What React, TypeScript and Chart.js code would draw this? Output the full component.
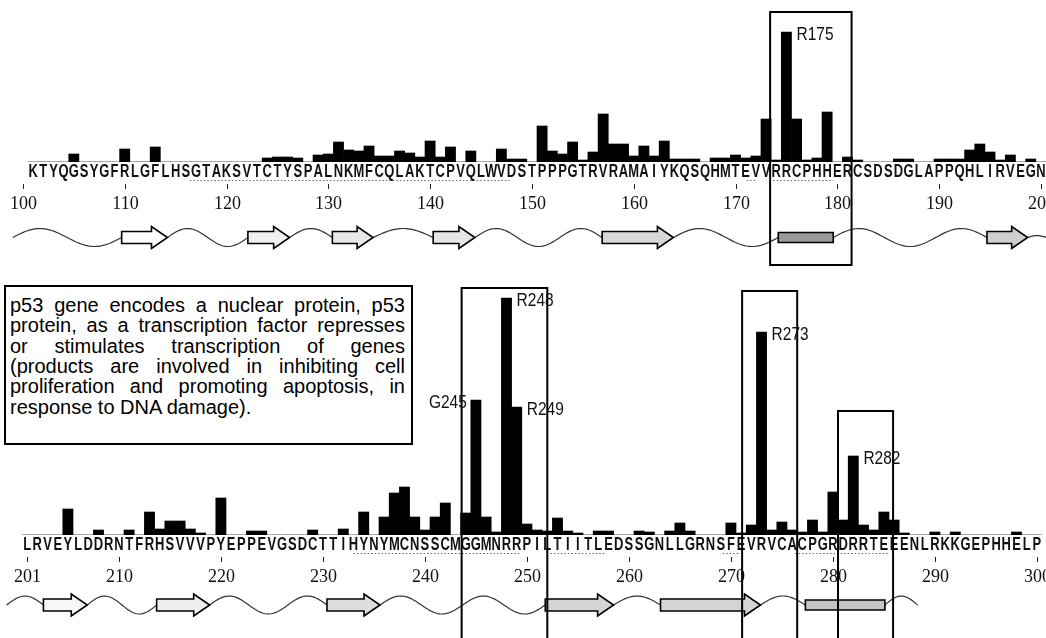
import React, { useEffect, useRef } from 'react';
import { Chart, registerables } from 'chart.js';

Chart.register(...registerables);

// ---------------- data ----------------
const SEQ_TOP = 'KTYQGSYGFRLGFLHSGTAKSVTCTYSPALNKMFCQLAKTCPVQLWVDSTPPPGTRVRAMAIYKQSQHMTEVVRRCPHHERCSDSDGLAPPQHLIRVEGN';
const SEQ_BOTTOM = 'LRVEYLDDRNTFRHSVVVPYEPPEVGSDCTTIHYNYMCNSSCMGGMNRRPILTIITLEDSSGNLLGRNSFEVRVCACPGRDRRTEEENLRKKGEPHHELP';
const START_TOP = 101;
const START_BOTTOM = 201;

const FREQ_TOP = [
  0, 0, 0, 0, 8, 0, 0, 0, 0, 13,
  0, 0, 15, 0, 0, 0, 0, 0, 0, 0,
  0, 0, 0, 4, 5, 5, 4, 0, 7, 8,
  20, 12, 11, 16, 6, 6, 11, 9, 5, 21,
  5, 15, 0, 11, 0, 0, 13, 3, 3, 0,
  36, 11, 8, 20, 2, 10, 48, 18, 18, 6,
  16, 6, 21, 3, 3, 3, 0, 4, 4, 7,
  4, 6, 43, 2, 130, 43, 2, 4, 50, 0,
  5, 2, 0, 0, 0, 3, 3, 0, 0, 3,
  3, 3, 12, 18, 10, 2, 7, 0, 3, 0,
];

const FREQ_BOTTOM = [
  0, 0, 0, 0, 26, 0, 0, 5, 0, 0,
  5, 0, 23, 6, 14, 14, 6, 2, 0, 37,
  0, 0, 4, 4, 0, 0, 0, 0, 5, 0,
  0, 6, 0, 23, 0, 18, 42, 48, 18, 5,
  18, 32, 0, 22, 135, 18, 3, 237, 128, 11,
  5, 4, 17, 4, 2, 0, 4, 4, 0, 0,
  4, 3, 0, 4, 12, 4, 0, 0, 0, 12,
  2, 10, 203, 5, 13, 5, 3, 15, 3, 43,
  15, 79, 10, 5, 23, 15, 2, 0, 0, 3,
  0, 3, 0, 0, 0, 0, 0, 3, 0, 0,
];

const TICKS_TOP = [100, 110, 120, 130, 140, 150, 160, 170, 180, 190, 200];
const TICKS_BOTTOM = [201, 210, 220, 230, 240, 250, 260, 270, 280, 290, 300];

const PEAKS_TOP = ['R175'];
const PEAKS_BOTTOM = ['G245', 'R248', 'R249', 'R273', 'R282'];
const PEAKS_LABEL_LEFT = ['G245'];

// secondary structure (residue ranges)
const STRANDS_TOP = [[109.7, 114.2], [122.1, 126.2], [130.4, 134.4], [140.3, 144.4], [156.9, 163.9], [194.7, 198.7]];
const HELICES_TOP = [[174.2, 179.6]];
const STRANDS_BOTTOM = [[202.6, 206.9], [213.7, 218.9], [230.4, 235.6], [251.8, 258.5], [263.1, 272.9]];
const HELICES_BOTTOM = [[277.3, 285.1]];
const COIL_TOP = [99, 200.5];
const COIL_BOTTOM = [199, 288.3];

// dotted underlines under the sequence (residue ranges)
const UNDERLINE_TOP = [[116.4, 147.8], [171.1, 172.1], [173.7, 179.6]];
const UNDERLINE_BOTTOM = [[233, 249.3], [252.3, 257.7], [269.2, 270.9], [276.3, 285.6]];

// hotspot boxes: [from residue, to residue, top value, bottom value (optional)]
const BOXES_TOP = [[173.4, 181.4, 150, -103]];
const BOXES_BOTTOM = [[243.6, 252.0, 247], [271.1, 276.5, 244], [280.5, 285.9, 124]];

const INFO_LINES = [
  'p53 gene encodes a nuclear protein, p53',
  'protein, as a transcription factor represses',
  'or stimulates transcription of genes',
  '(products are involved in inhibiting cell',
  'proliferation and promoting apoptosis, in',
  'response to DNA damage).',
];

// ---------------- styles ----------------
const STRAND_FILLS_TOP = ['#ffffff', '#f0f0f0', '#e8e8e8', '#e6e6e6', '#d8d8d8', '#cfcfcf'];
const STRAND_FILLS_BOTTOM = ['#f7f7f7', '#eeeeee', '#dddddd', '#d4d4d4', '#d4d4d4'];

type Panel = {
  seq: string;
  start: number;
  freq: number[];
  ticks: number[];
  peaks: string[];
  strands: number[][];
  helices: number[][];
  coil: number[];
  underlines: number[][];
  boxes: number[][];
  strandFills: string[];
  helixFill: string;
  ssOffset: number;
};

const SANS = '"Liberation Sans", Arial, sans-serif';
const SERIF = '"Liberation Serif", "Times New Roman", serif';

function makeDecor(p: Panel) {
  return {
    id: 'panelDecor',
    afterDatasetsDraw(chart: any) {
      const { ctx, chartArea, scales } = chart;
      const xs = scales.x;
      const ys = scales.y;
      const px = (res: number) => xs.getPixelForValue(res - p.start);
      const base = chartArea.bottom;
      const cw = (chartArea.right - chartArea.left) / p.seq.length;
      ctx.save();

      // sequence letters
      ctx.fillStyle = '#111';
      ctx.font = `bold 18px ${SANS}`;
      ctx.textAlign = 'center';
      ctx.textBaseline = 'alphabetic';
      for (let i = 0; i < p.seq.length; i++) {
        const x = xs.getPixelForValue(i);
        ctx.save();
        ctx.translate(x, base + 14.5);
        ctx.scale(0.72, 1);
        ctx.fillText(p.seq[i], 0, 0);
        ctx.restore();
      }

      // dotted underlines
      ctx.strokeStyle = '#666';
      ctx.lineWidth = 1;
      ctx.setLineDash([1.5, 2]);
      for (const [a, b] of p.underlines) {
        ctx.beginPath();
        ctx.moveTo(px(a), base + 18.5);
        ctx.lineTo(px(b), base + 18.5);
        ctx.stroke();
      }
      ctx.setLineDash([]);

      // ticks and numbers
      ctx.strokeStyle = '#222';
      ctx.font = `18px ${SERIF}`;
      ctx.fillStyle = '#111';
      for (const n of p.ticks) {
        const x = Math.round(px(n)) + 0.5;
        ctx.beginPath();
        ctx.moveTo(x, base + 22);
        ctx.lineTo(x, base + 27);
        ctx.stroke();
        ctx.fillText(String(n), x, base + 46.5);
      }

      // secondary structure: coil wave, strands, helices
      const cy = base + p.ssOffset;
      const elems = [
        ...p.strands.map((r, i) => ({ a: r[0], b: r[1], kind: 'E', fill: p.strandFills[i] || '#ddd' })),
        ...p.helices.map((r) => ({ a: r[0], b: r[1], kind: 'H', fill: p.helixFill })),
      ].sort((u, v) => u.a - v.a);

      const gaps: number[][] = [];
      let cur = p.coil[0];
      for (const e of elems) {
        gaps.push([cur, e.a]);
        cur = e.b;
      }
      gaps.push([cur, p.coil[1]]);
      ctx.strokeStyle = '#333';
      ctx.lineWidth = 1.2;
      for (const [a, b] of gaps) {
        const xa = px(a);
        const xb = px(b);
        const len = xb - xa;
        if (len <= 0) continue;
        const n = Math.max(1, Math.round(len / 44));
        const amp = len < 20 ? 2 : 9;
        ctx.beginPath();
        const steps = Math.max(4, Math.ceil(len / 2));
        for (let s = 0; s <= steps; s++) {
          const t = s / steps;
          const x = xa + len * t;
          const y = cy - amp * Math.sin(Math.PI * n * t);
          if (s === 0) ctx.moveTo(x, y);
          else ctx.lineTo(x, y);
        }
        ctx.stroke();
      }

      ctx.lineWidth = 1.6;
      ctx.strokeStyle = '#000';
      for (const e of elems) {
        const x0 = px(e.a);
        const x1 = px(e.b);
        ctx.fillStyle = e.fill;
        ctx.beginPath();
        if (e.kind === 'E') {
          const hl = Math.min(16, (x1 - x0) * 0.4);
          ctx.moveTo(x0, cy - 6);
          ctx.lineTo(x1 - hl, cy - 6);
          ctx.lineTo(x1 - hl, cy - 11);
          ctx.lineTo(x1, cy);
          ctx.lineTo(x1 - hl, cy + 11);
          ctx.lineTo(x1 - hl, cy + 6);
          ctx.lineTo(x0, cy + 6);
          ctx.closePath();
        } else {
          ctx.rect(x0, cy - 5, x1 - x0, 10);
        }
        ctx.fill();
        ctx.stroke();
      }

      // hotspot boxes
      ctx.lineWidth = 2;
      ctx.strokeStyle = '#000';
      for (const bx of p.boxes) {
        const x0 = px(bx[0]);
        const x1 = px(bx[1]);
        const y0 = ys.getPixelForValue(bx[2]);
        const y1 = bx.length > 3 ? ys.getPixelForValue(bx[3]) : chart.height + 5;
        ctx.strokeRect(x0, y0, x1 - x0, y1 - y0);
      }

      // peak labels
      ctx.fillStyle = '#111';
      ctx.font = `18px ${SANS}`;
      ctx.textBaseline = 'middle';
      for (const lab of p.peaks) {
        const res = parseInt(lab.slice(1), 10);
        const idx = res - p.start;
        const v = p.freq[idx];
        const xc = xs.getPixelForValue(idx);
        const yTop = ys.getPixelForValue(v);
        const left = PEAKS_LABEL_LEFT.includes(lab);
        ctx.save();
        ctx.translate(left ? xc - cw / 2 - 4 : xc + cw / 2 + 5, yTop + 3);
        ctx.scale(0.86, 1);
        ctx.textAlign = left ? 'right' : 'left';
        ctx.fillText(lab, 0, 0);
        ctx.restore();
      }

      ctx.restore();
    },
  };
}

function buildChart(canvas: HTMLCanvasElement, p: Panel, pad: { left: number; right: number; top: number; bottom: number }, yMax: number) {
  return new Chart(canvas, {
    type: 'bar',
    data: {
      labels: p.seq.split('').map((c, i) => `${c}${p.start + i}`),
      datasets: [
        {
          data: p.freq,
          backgroundColor: '#000',
          borderWidth: 0,
          barPercentage: 1,
          categoryPercentage: 1,
        },
      ],
    },
    options: {
      animation: false,
      responsive: false,
      maintainAspectRatio: false,
      layout: { padding: pad },
      scales: {
        x: { display: false, offset: true },
        y: { display: false, min: 0, max: yMax },
      },
      plugins: {
        legend: { display: false },
        tooltip: { enabled: false },
        title: { display: false },
      },
    },
    plugins: [makeDecor(p)],
  } as any);
}

export default function App() {
  const topRef = useRef<HTMLCanvasElement>(null);
  const botRef = useRef<HTMLCanvasElement>(null);

  useEffect(() => {
    const top = buildChart(
      topRef.current as HTMLCanvasElement,
      {
        seq: SEQ_TOP,
        start: START_TOP,
        freq: FREQ_TOP,
        ticks: TICKS_TOP,
        peaks: PEAKS_TOP,
        strands: STRANDS_TOP,
        helices: HELICES_TOP,
        coil: COIL_TOP,
        underlines: UNDERLINE_TOP,
        boxes: BOXES_TOP,
        strandFills: STRAND_FILLS_TOP,
        helixFill: '#9a9a9a',
        ssOffset: 75.5,
      },
      { left: 28, right: 0, top: 12, bottom: 118 },
      150
    );
    const bot = buildChart(
      botRef.current as HTMLCanvasElement,
      {
        seq: SEQ_BOTTOM,
        start: START_BOTTOM,
        freq: FREQ_BOTTOM,
        ticks: TICKS_BOTTOM,
        peaks: PEAKS_BOTTOM,
        strands: STRANDS_BOTTOM,
        helices: HELICES_BOTTOM,
        coil: COIL_BOTTOM,
        underlines: UNDERLINE_BOTTOM,
        boxes: BOXES_BOTTOM,
        strandFills: STRAND_FILLS_BOTTOM,
        helixFill: '#c4c4c4',
        ssOffset: 70,
      },
      { left: 22, right: 4, top: 15, bottom: 103 },
      240
    );
    return () => {
      top.destroy();
      bot.destroy();
    };
  }, []);

  return (
    <div style={{ position: 'absolute', left: 0, top: 0, width: 1046, height: 638, background: '#fff', overflow: 'hidden' }}>
      <canvas ref={topRef} width={1046} height={280} style={{ position: 'absolute', left: 0, top: 0, width: 1046, height: 280 }} />
      <canvas ref={botRef} width={1046} height={358} style={{ position: 'absolute', left: 0, top: 280, width: 1046, height: 358 }} />
      <div
        style={{
          position: 'absolute',
          left: 4,
          top: 285,
          width: 409,
          height: 160,
          boxSizing: 'border-box',
          border: '2px solid #000',
          background: '#fff',
        }}
      >
        {INFO_LINES.map((t, i) => (
          <div
            key={i}
            style={{
              position: 'absolute',
              left: 4,
              width: 395,
              top: 7.8 + i * 20.4,
              fontFamily: SANS,
              fontSize: 20,
              lineHeight: '20.4px',
              color: '#000',
              textAlign: 'justify',
              textAlignLast: i === INFO_LINES.length - 1 ? 'left' : 'justify',
            } as React.CSSProperties}
          >
            {t}
          </div>
        ))}
      </div>
    </div>
  );
}
